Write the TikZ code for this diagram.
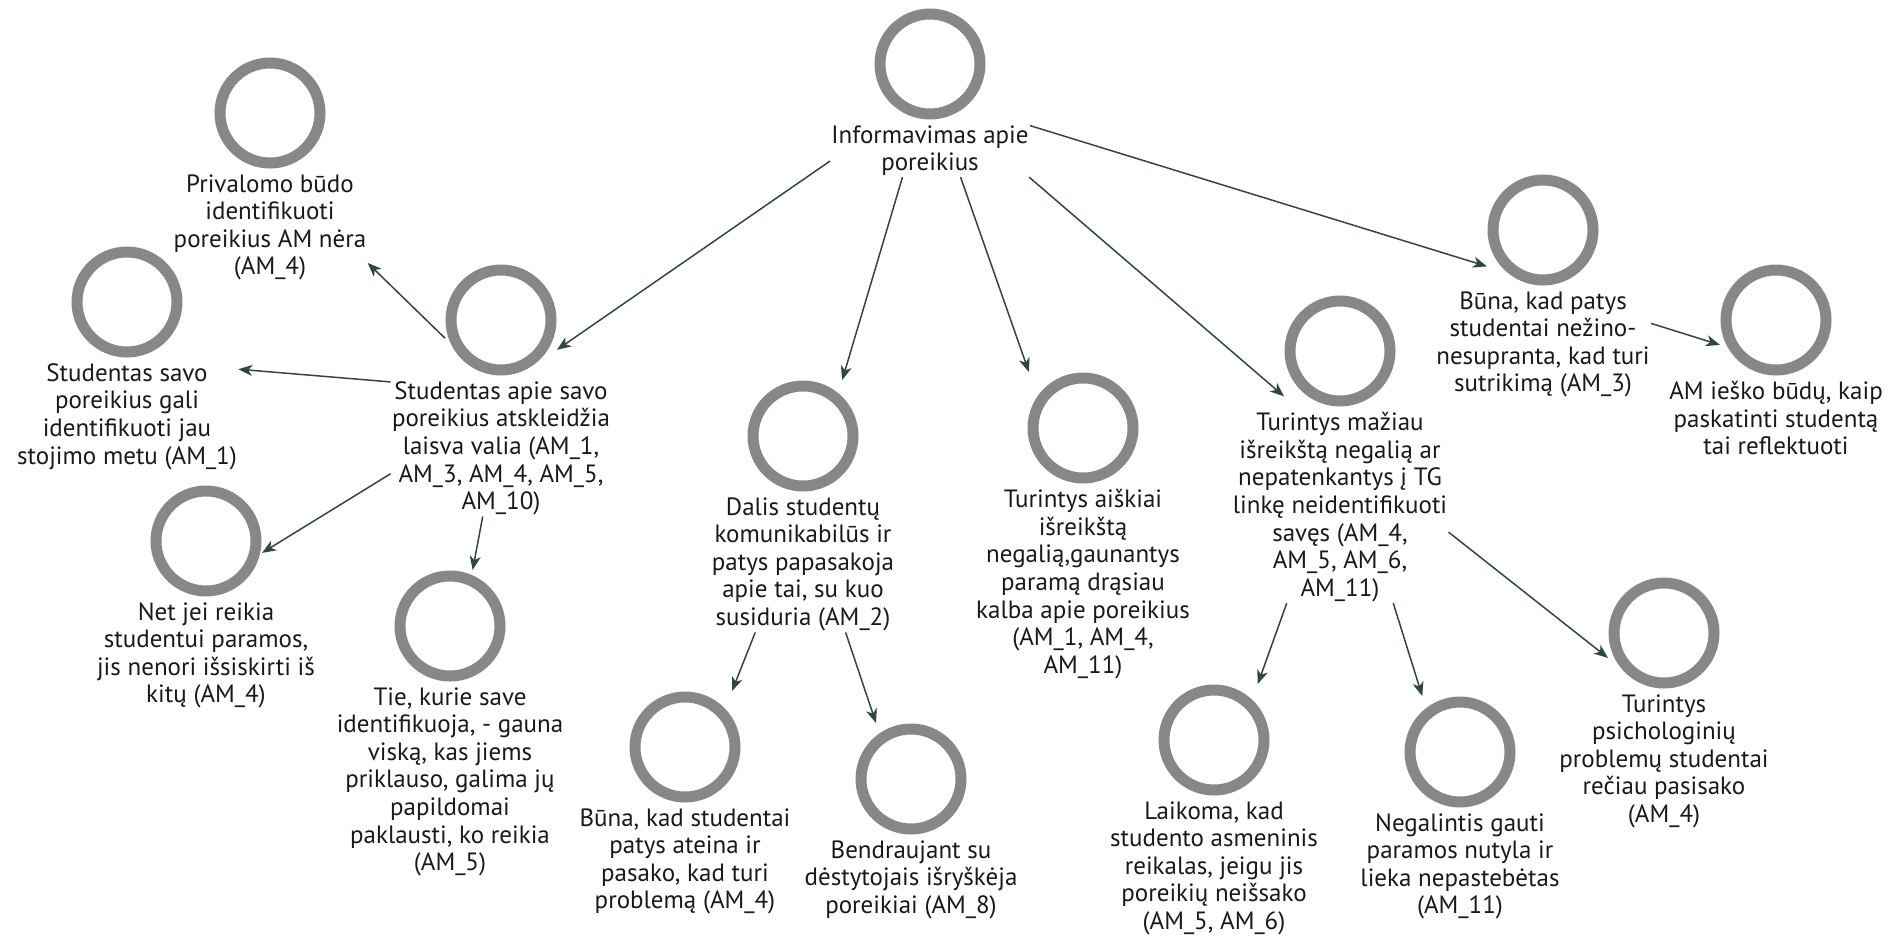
\documentclass[tikz,border=0pt]{standalone}
\usepackage{fontspec}
\setmainfont{PT Sans}
\usetikzlibrary{arrows.meta,positioning}

\definecolor{ringgray}{HTML}{878787}
\definecolor{linkcol}{HTML}{2F4744}

\begin{document}
\begin{tikzpicture}[
  x=0.5pt, y=-0.5pt,
  node distance=2pt,
  ring/.style={
    rectangle,
    minimum size=56pt,
    inner sep=0pt,
    outer sep=0pt,
    path picture={
      \draw[ringgray, line width=5.5pt]
        (path picture bounding box.center) circle[radius=25pt];
    }
  },
  lbl/.style={
    align=center,
    inner sep=0.5pt,
    font=\fontsize{12.5pt}{13.8pt}\selectfont,
    text=black!90
  },
  link/.style={-{Stealth[length=7pt,width=5.5pt,inset=2pt]}, line width=0.75pt, linkcol}
]
\useasboundingbox (0,0) rectangle (1899,938);

% Root
\node[ring] (c-root) at (930,64) {};
\node[lbl,below=of c-root] (t-root) {Informavimas apie\\poreikius};

% Left branch
\node[ring] (c-sapie) at (501,320) {};
\node[lbl,below=of c-sapie] (t-sapie) {Studentas apie savo\\poreikius atskleidžia\\laisva valia (AM\_1,\\AM\_3, AM\_4, AM\_5,\\AM\_10)};

\node[ring] (c-priv) at (270,113) {};
\node[lbl,below=of c-priv] (t-priv) {Privalomo būdo\\identifikuoti\\poreikius AM nėra\\(AM\_4)};

\node[ring] (c-ssavo) at (127,302) {};
\node[lbl,below=of c-ssavo] (t-ssavo) {Studentas savo\\poreikius gali\\identifikuoti jau\\stojimo metu (AM\_1)};

\node[ring] (c-netjei) at (206,541) {};
\node[lbl,below=of c-netjei] (t-netjei) {Net jei reikia\\studentui paramos,\\jis nenori išsiskirti iš\\kitų (AM\_4)};

\node[ring] (c-tie) at (450,626) {};
\node[lbl,below=of c-tie] (t-tie) {Tie, kurie save\\identifikuoja, - gauna\\viską, kas jiems\\priklauso, galima jų\\papildomai\\paklausti, ko reikia\\(AM\_5)};

% Middle branch
\node[ring] (c-dalis) at (803,436) {};
\node[lbl,below=of c-dalis] (t-dalis) {Dalis studentų\\komunikabilūs ir\\patys papasakoja\\apie tai, su kuo\\susiduria (AM\_2)};

\node[ring] (c-bunas) at (685,747) {};
\node[lbl,below=of c-bunas] (t-bunas) {Būna, kad studentai\\patys ateina ir\\pasako, kad turi\\problemą (AM\_4)};

\node[ring] (c-bendr) at (911,779) {};
\node[lbl,below=of c-bendr] (t-bendr) {Bendraujant su\\dėstytojais išryškėja\\poreikiai (AM\_8)};

\node[ring] (c-taiskiai) at (1083,428) {};
\node[lbl,below=of c-taiskiai] (t-taiskiai) {Turintys aiškiai\\išreikštą\\negalią,gaunantys\\paramą drąsiau\\kalba apie poreikius\\(AM\_1, AM\_4,\\AM\_11)};

% Right branch
\node[ring] (c-tmaziau) at (1340,351) {};
\node[lbl,below=of c-tmaziau] (t-tmaziau) {Turintys mažiau\\išreikštą negalią ar\\nepatenkantys į TG\\linkę neidentifikuoti\\savęs (AM\_4,\\AM\_5, AM\_6,\\AM\_11)};

\node[ring] (c-laikoma) at (1214,740) {};
\node[lbl,below=of c-laikoma] (t-laikoma) {Laikoma, kad\\studento asmeninis\\reikalas, jeigu jis\\poreikių neišsako\\(AM\_5, AM\_6)};

\node[ring] (c-negal) at (1460,752) {};
\node[lbl,below=of c-negal] (t-negal) {Negalintis gauti\\paramos nutyla ir\\lieka nepastebėtas\\(AM\_11)};

\node[ring] (c-psich) at (1664,633) {};
\node[lbl,below=of c-psich] (t-psich) {Turintys\\psichologinių\\problemų studentai\\rečiau pasisako\\(AM\_4)};

\node[ring] (c-bunap) at (1543,230) {};
\node[lbl,below=of c-bunap] (t-bunap) {Būna, kad patys\\studentai nežino-\\nesupranta, kad turi\\sutrikimą (AM\_3)};

\node[ring] (c-amiesko) at (1776,320) {};
\node[lbl,below=of c-amiesko] (t-amiesko) {AM ieško būdų, kaip\\paskatinti studentą\\tai reflektuoti};

% Links from the root
\draw[link] (t-root.186) -- (c-sapie.332);
\draw[link] (t-root.224) -- (c-dalis.55);
\draw[link] (t-root.319) -- (c-taiskiai.134);
\draw[link] (t-root.345) -- (c-tmaziau.219);
\draw[link] (t-root.14) -- (c-bunap.213);

% Links of the sub-branches
\draw[link] (c-sapie.198) -- (t-priv.340);
\draw[link] (t-sapie.149) -- (t-ssavo.23);
\draw[link] (t-sapie.193) -- (c-netjei.348);
\draw[link] (t-sapie.255) -- (c-tie.68);
\draw[link] (t-dalis.235) -- (c-bunas.50);
\draw[link] (t-dalis.302) -- (c-bendr.122);
\draw[link] (t-tmaziau.241) -- (c-laikoma.52);
\draw[link] (t-tmaziau.299) -- (c-negal.124);
\draw[link] (t-tmaziau.347) -- (c-psich.204);
\draw[link] (t-bunap.11) -- (c-amiesko.204);

\end{tikzpicture}
\end{document}
